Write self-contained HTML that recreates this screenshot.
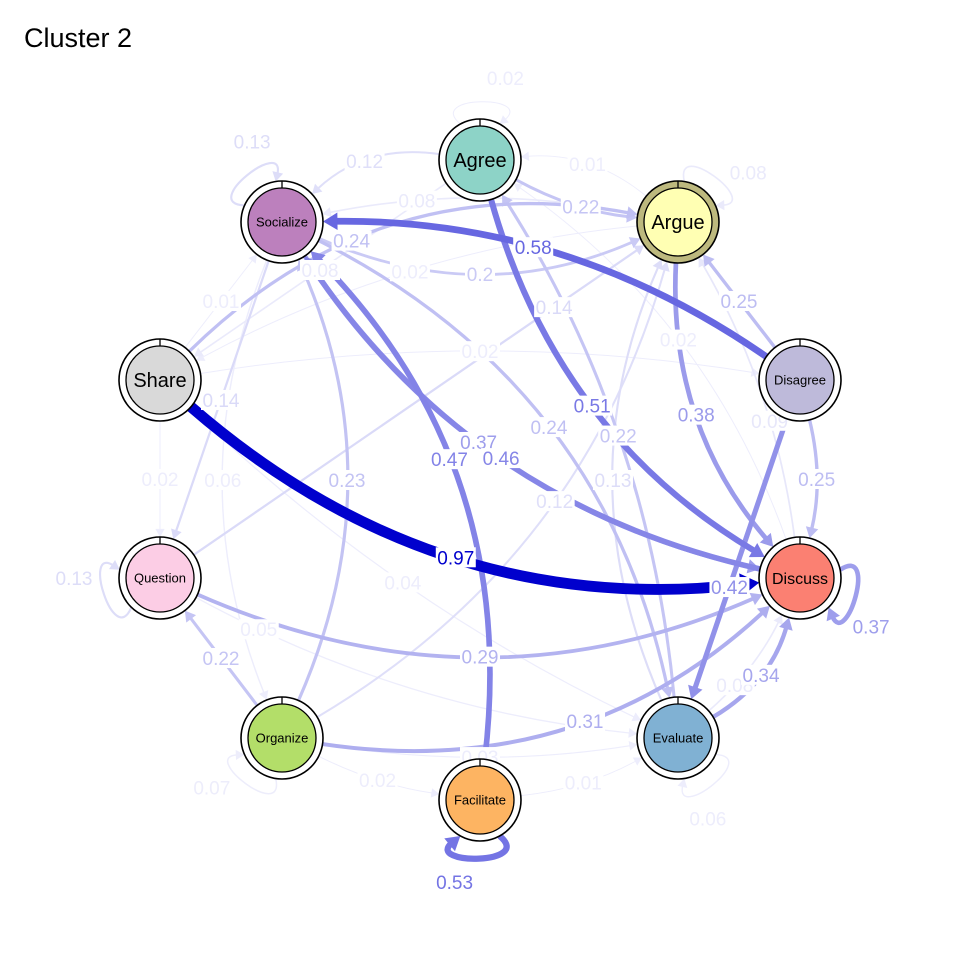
<!DOCTYPE html>
<html><head><meta charset="utf-8"><style>
html,body{margin:0;padding:0;background:#fff}
svg{display:block}
text{font-family:"Liberation Sans",Arial,sans-serif}
</style></head><body>
<svg id="chart" width="960" height="960" viewBox="0 0 960 960">
<text x="24" y="47" font-size="27" fill="#000">Cluster 2</text>
<g id="edges"></g>
<g id="labels"></g>
<g id="nodes"></g>
</svg>
<script>
const nodeNames = ["Agree","Argue","Disagree","Discuss","Evaluate","Facilitate","Organize","Question","Share","Socialize"];
const nodeX = [480,678,800,800,678,480,282,160,160,282];
const nodeY = [160,222,380,578,738,800,738,578,380,222];
const nodeColors = ["#8DD3C7","#FFFFB3","#BEBADA","#FB8072","#80B1D3","#FDB462","#B3DE69","#FCCDE5","#D9D9D9","#BC80BD"];
const nodeFont = [20,20,13,16,13,13,13,13,20,13];
const edgeFrom = ["Share","Disagree","Agree","Socialize","Discuss","Facilitate","Argue","Disagree","Evaluate","Organize","Question","Organize","Share","Agree","Agree","Agree","Argue","Socialize","Evaluate","Evaluate","Organize","Socialize","Question","Question","Organize","Socialize","Disagree","Discuss","Disagree","Evaluate","Socialize","Share","Share","Share","Argue","Facilitate","Organize","Organize","Argue","Share","Discuss"];
const edgeTo   = ["Discuss","Socialize","Discuss","Discuss","Socialize","Socialize","Discuss","Evaluate","Discuss","Discuss","Discuss","Question","Argue","Share","Argue","Socialize","Socialize","Argue","Agree","Argue","Socialize","Organize","Argue","Evaluate","Argue","Evaluate","Argue","Argue","Discuss","Discuss","Question","Question","Disagree","Socialize","Share","Evaluate","Evaluate","Facilitate","Agree","Evaluate","Agree"];
const edgeWeight = [0.97,0.58,0.51,0.37,0.46,0.47,0.38,0.42,0.34,0.31,0.29,0.22,0.24,0.08,0.22,0.12,0.08,0.2,0.22,0.13,0.23,0.06,0.14,0.05,0.12,0.24,0.25,0.09,0.25,0.08,0.14,0.02,0.02,0.01,0.02,0.01,0.03,0.02,0.01,0.04,0.02];
const edgeCurve = [0.11,0.08,0.1,0.1,-0.1,0.12,0.1,0.0,0.1,0.12,0.11,0.0,-0.13,0.0,0.05,0.12,0.05,0.11,0.06,-0.11,0.11,0.1,0.0,0.05,0.1,-0.12,0.0,0.05,-0.06,0.05,0.0,0.0,-0.04,0.0,0.05,0.05,0.04,0.04,0.1,0.04,0.08];
const edgeLabelT = [0.5,0.55,0.5,0.45,0.5,0.55,0.5,0.6,0.5,0.55,0.5,0.5,0.4,0.5,0.55,0.55,0.7,0.5,0.5,0.5,0.5,0.5,0.8,0.15,0.55,0.5,0.5,0.4,0.5,0.3,0.5,0.5,0.5,0.5,0.5,0.5,0.5,0.5,0.5,0.5,0.5];
const loopNode = ["Agree","Argue","Discuss","Evaluate","Facilitate","Organize","Question","Socialize"];
const loopWeight = [0.02,0.08,0.37,0.06,0.53,0.07,0.13,0.13];

const NS="http://www.w3.org/2000/svg";
const R=41, RI=34, MAXW=0.97;
const idx=n=>nodeNames.indexOf(n);
function col(w){const a=Math.max(0.07,Math.min(1,w/MAXW));
 const m=c=>Math.round(255+(c-255)*a);return `rgb(${m(0)},${m(0)},${m(205)})`;}
function wid(w){return 0.8+w/MAXW*10;}
const eg=document.getElementById('edges'), lg=document.getElementById('labels'), ng=document.getElementById('nodes');
function arrow(x,y,ux,uy,w,c,name){const L=7+w*1.1,H=4+w*0.7;
 const p=document.createElementNS(NS,'polygon');
 const bx=x-ux*L,by=y-uy*L;
 p.setAttribute('points',`${x},${y} ${bx-uy*H},${by+ux*H} ${bx+uy*H},${by-ux*H}`);
 p.setAttribute('fill',c);
 
 
 eg.appendChild(p);return L;}
function label(x,y,w,txt,name){
 const s=String(txt);
 const r=document.createElementNS(NS,'rect');const tw=s.length*10;
 r.setAttribute('x',x-tw/2);r.setAttribute('y',y-10);r.setAttribute('width',tw);r.setAttribute('height',20);r.setAttribute('fill','#fff');
 
 
 lg.appendChild(r);
 const t=document.createElementNS(NS,'text');t.setAttribute('x',x);t.setAttribute('y',y+7);t.setAttribute('text-anchor','middle');
 t.setAttribute('font-size','19');t.setAttribute('fill',col(w));t.textContent=s;
 
 
 lg.appendChild(t);}
const order=edgeWeight.map((w,i)=>i).sort((a,b)=>edgeWeight[a]-edgeWeight[b]);
order.forEach(i=>{
 const a=idx(edgeFrom[i]),b=idx(edgeTo[i]),w=edgeWeight[i];
 const x1=nodeX[a],y1=nodeY[a],x2=nodeX[b],y2=nodeY[b];
 const dx=x2-x1,dy=y2-y1,len=Math.hypot(dx,dy);
 const px=-dy/len,py=dx/len,off=edgeCurve[i]*len*2;
 const cx=(x1+x2)/2+px*off,cy=(y1+y2)/2+py*off;
 let u=[cx-x1,cy-y1],ul=Math.hypot(...u);const sx=x1+u[0]/ul*R,sy=y1+u[1]/ul*R;
 let v=[x2-cx,y2-cy],vl=Math.hypot(...v);const ux=v[0]/vl,uy=v[1]/vl;
 const ex=x2-ux*R,ey=y2-uy*R;
 const c=col(w),sw=wid(w),name='edge-'+edgeFrom[i].toLowerCase()+'-'+edgeTo[i].toLowerCase();
 const L=7+sw*1.1;
 const path=document.createElementNS(NS,'path');
 path.setAttribute('d',`M${sx},${sy} Q${cx},${cy} ${ex-ux*L*0.8},${ey-uy*L*0.8}`);
 path.setAttribute('fill','none');path.setAttribute('stroke',c);path.setAttribute('stroke-width',sw);
 
 
 eg.appendChild(path);
 arrow(ex,ey,ux,uy,sw,c,name);
 const t=edgeLabelT[i],mt=1-t;
 label(mt*mt*sx+2*mt*t*cx+t*t*ex,mt*mt*sy+2*mt*t*cy+t*t*ey,w,w,name);
});
loopNode.forEach((n,k)=>{
 const i=idx(n),w=loopWeight[k],x=nodeX[i],y=nodeY[i];
 const th=Math.atan2(y-480,x-480);
 const P=(ang,d)=>[x+Math.cos(ang)*d,y+Math.sin(ang)*d];
 const s=P(th-0.5,R),e=P(th+0.5,R),c1=P(th-0.7,85),c2=P(th+0.7,85);
 const c=col(w),sw=wid(w),name='self-loop-'+n.toLowerCase();
 let ux=e[0]-c2[0],uy=e[1]-c2[1];const l=Math.hypot(ux,uy);ux/=l;uy/=l;
 const L=7+sw*1.1;
 const path=document.createElementNS(NS,'path');
 path.setAttribute('d',`M${s[0]},${s[1]} C${c1[0]},${c1[1]} ${c2[0]},${c2[1]} ${e[0]-ux*L*0.8},${e[1]-uy*L*0.8}`);
 path.setAttribute('fill','none');path.setAttribute('stroke',c);path.setAttribute('stroke-width',sw);
 
 
 eg.appendChild(path);
 arrow(e[0],e[1],ux,uy,sw,c,name);
 const lp=P(th+0.3,86);label(lp[0],lp[1],w,w,name);
});
nodeNames.forEach((n,i)=>{
 const g=document.createElementNS(NS,'g');
 
 
 const x=nodeX[i],y=nodeY[i];
 g.innerHTML=`<circle cx="${x}" cy="${y}" r="${R}" fill="${n==='Argue'?'#BDB97E':'#fff'}" stroke="#000" stroke-width="1.6"/>
<line x1="${x}" y1="${y-R}" x2="${x}" y2="${y-RI}" stroke="#000" stroke-width="1.3"/>
<circle cx="${x}" cy="${y}" r="${RI}" fill="${nodeColors[i]}" stroke="#000" stroke-width="1.3"/>
<text x="${x}" y="${y+nodeFont[i]*0.36}" text-anchor="middle" font-size="${nodeFont[i]}" fill="#000">${n}</text>`;
 ng.appendChild(g);
});
</script>
</body></html>
